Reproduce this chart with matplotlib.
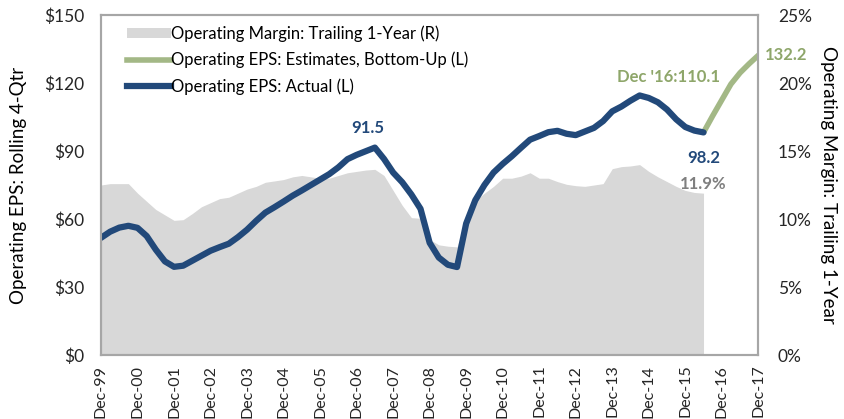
import matplotlib
matplotlib.use("Agg")
import matplotlib.pyplot as plt
from matplotlib.patches import Patch
from matplotlib.lines import Line2D
from matplotlib.ticker import FuncFormatter

plt.rcParams['font.family'] = ['Lato', 'DejaVu Sans']

# quarterly, Dec-99 .. Jun-16 (actual)
eps_actual = [51.7, 54.4, 56.2, 57.0, 56.1, 52.5, 46.5, 41.3, 38.9, 39.4,
              41.6, 43.8, 46.0, 47.6, 49.1, 52.0, 55.3, 59.2, 62.8, 65.2,
              67.7, 70.3, 72.6, 75.0, 77.4, 79.8, 82.8, 86.4, 88.3, 89.9,
              91.5, 86.5, 80.5, 76.2, 70.8, 64.5, 49.5, 43.0, 39.8, 38.8,
              58.0, 68.3, 75.0, 80.5, 84.3, 87.7, 91.4, 95.0, 96.6, 98.3,
              98.9, 97.6, 97.0, 98.6, 100.2, 103.2, 107.5, 109.6, 112.2, 114.5,
              113.4, 111.5, 108.3, 104.0, 100.6, 99.0, 98.2]

margin = [12.5, 12.6, 12.6, 12.6, 11.9, 11.3, 10.7, 10.3, 9.9, 9.95,
          10.4, 10.9, 11.2, 11.5, 11.6, 11.9, 12.2, 12.4, 12.7, 12.8,
          12.9, 13.1, 13.2, 13.1, 13.0, 13.0, 13.2, 13.4, 13.5, 13.6,
          13.65, 13.2, 12.1, 11.0, 10.1, 10.05, 8.5, 8.1, 8.0, 7.95,
          9.9, 11.35, 11.9, 12.4, 13.0, 13.0, 13.15, 13.4, 13.0, 13.0,
          12.75, 12.55, 12.45, 12.4, 12.5, 12.6, 13.7, 13.85, 13.9, 14.0,
          13.5, 13.1, 12.75, 12.4, 12.1, 11.95, 11.9]

# Jun-16 .. Dec-17 (bottom-up estimates)
eps_est = [98.2, 105.5, 112.5, 119.5, 124.5, 128.5, 132.2]

tick_labels = ['Dec-99', 'Dec-00', 'Dec-01', 'Dec-02', 'Dec-03', 'Dec-04',
               'Dec-05', 'Dec-06', 'Dec-07', 'Dec-08', 'Dec-09', 'Dec-10',
               'Dec-11', 'Dec-12', 'Dec-13', 'Dec-14', 'Dec-15', 'Dec-16',
               'Dec-17']

x_act = list(range(len(eps_actual)))
x_est = list(range(len(eps_actual) - 1, len(eps_actual) - 1 + len(eps_est)))

BLUE = '#22497A'
GREEN = '#A3B886'
GREEN_TXT = '#8EA66A'
GRAY_AREA = '#D8D8D8'
FRAME = '#A6A6A6'

fig = plt.figure(figsize=(8.44, 4.19), dpi=100)
ax = fig.add_axes([101 / 844, 1 - 355 / 419, (758.3 - 101) / 844, (355 - 15) / 419])
ax2 = ax.twinx()

ax2.fill_between(x_act, [m / 100 for m in margin], 0, color=GRAY_AREA, lw=0)
ax2.set_ylim(0, 0.25)
ax2.set_yticks([0, 0.05, 0.10, 0.15, 0.20, 0.25])
ax2.yaxis.set_major_formatter(FuncFormatter(lambda v, p: '%d%%' % round(v * 100)))

ax.set_zorder(ax2.get_zorder() + 1)
ax.patch.set_visible(False)

ax.plot(x_est, eps_est, color=GREEN, lw=4, solid_capstyle='round', solid_joinstyle='round')
ax.plot(x_act, eps_actual, color=BLUE, lw=4.5, solid_capstyle='round', solid_joinstyle='round')

ax.set_xlim(0, 72)
ax.set_ylim(0, 150)
ax.set_yticks([0, 30, 60, 90, 120, 150])
ax.yaxis.set_major_formatter(FuncFormatter(lambda v, p: '$%d' % v))
ax.set_xticks(range(0, 73, 4))
ax.set_xticklabels(tick_labels, rotation=90)

for a in (ax, ax2):
    for s in a.spines.values():
        s.set_color(FRAME)
        s.set_linewidth(1.5)
    a.tick_params(length=0, labelsize=12.5, colors='#262626')
ax.tick_params(axis='x', labelsize=11.5, pad=7)
ax.tick_params(axis='y', pad=12)
ax2.tick_params(axis='y', pad=14)

ax.set_ylabel('Operating EPS: Rolling 4-Qtr', fontsize=13.5, labelpad=12)
ax2.set_ylabel('Operating Margin: Trailing 1-Year', fontsize=13.5, rotation=270, labelpad=18)

# annotations
ax.text(29.2, 96.5, '91.5', color=BLUE, fontsize=12, fontweight='bold', ha='center', va='bottom')
ax.text(66, 87, '98.2', color=BLUE, fontsize=12, fontweight='bold', ha='center', va='center')
ax.text(66, 75.5, '%.1f%%' % margin[-1], color='#7F7F7F', fontsize=12, fontweight='bold',
        ha='center', va='center')
ax.text(67.8, 122.5, "Dec '16:110.1", color=GREEN_TXT, fontsize=12, fontweight='bold',
        ha='right', va='center')
ax.text(72.7, 132.2, '132.2', color=GREEN_TXT, fontsize=12, fontweight='bold',
        ha='left', va='center', clip_on=False)

handles = [Patch(facecolor=GRAY_AREA, edgecolor='none'),
           Line2D([], [], color=GREEN, lw=4),
           Line2D([], [], color=BLUE, lw=4.5)]
labels = ['Operating Margin: Trailing 1-Year (R)',
          'Operating EPS: Estimates, Bottom-Up (L)',
          'Operating EPS: Actual (L)']
ax.legend(handles, labels, loc='upper left', bbox_to_anchor=(0.022, 1.005), frameon=False,
          fontsize=12, handlelength=2.65, handleheight=0.55, labelspacing=0.6,
          handletextpad=0.0, borderaxespad=0.3)

fig.savefig('out.png', dpi=100)
